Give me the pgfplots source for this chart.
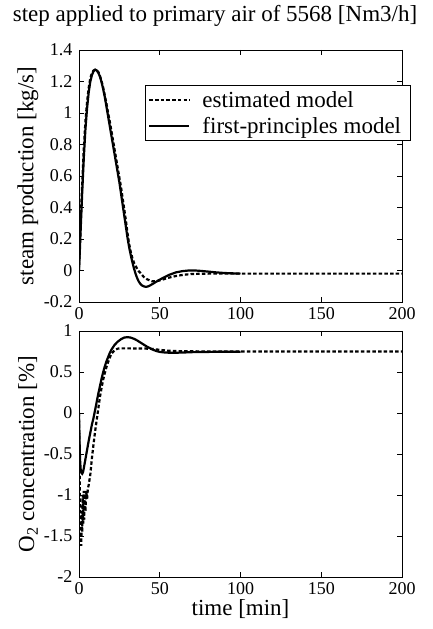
\documentclass[border=0pt]{standalone}
\usepackage{pgfplots}
\pgfplotsset{compat=1.18}
\usepackage{fontspec}
\setmainfont{Liberation Serif}

\pgfplotsset{
  myax/.style={
    scale only axis,
    width=323pt,
    xmin=0, xmax=200,
    xtick={0,50,100,150,200},
    xticklabels={0,50,100,150,200},
    tick align=inside,
    major tick length=5pt,
    axis line style={line width=0.8pt},
    every tick/.style={line width=0.8pt, black},
    ticklabel style={font=\fontsize{18}{20}\selectfont},
    yticklabel style={xshift=-3pt},
    xticklabel style={yshift=-2pt},
    label style={font=\fontsize{23}{26}\selectfont},
    clip=true,
  },
  est/.style={black, line width=2.2pt, dash pattern=on 3.5pt off 2.2pt},
  fp/.style={black, line width=2.2pt},
}

\begin{document}
\begin{tikzpicture}
\path[use as bounding box] (0pt,0pt) rectangle (432pt,629pt);
\node[font=\fontsize{23}{26}\selectfont] at (215pt,613pt) {step applied to primary air of 5568 [Nm3/h]};

\begin{axis}[myax,
  at={(79pt,327pt)}, anchor=south west,
  height=252pt,
  ymin=-0.2, ymax=1.4,
  ytick={-0.2,0,0.2,0.4,0.6,0.8,1,1.2,1.4},
  yticklabels={-0.2,0,0.2,0.4,0.6,0.8,1,1.2,1.4},
  ylabel={steam production [kg/s]},
  ylabel style={at={(axis description cs:-0.158,0.5)}, anchor=center},
  legend cell align=left,
  legend style={at={(axis description cs:0.204,0.861)}, anchor=north west,
    draw=black, line width=0.8pt, font=\fontsize{23}{26}\selectfont,
    inner xsep=3pt, inner ysep=5pt, row sep=6pt,
    nodes={inner xsep=6pt, inner ysep=1pt}},
  legend image code/.code={\draw[#1] (0pt,0pt) -- (40pt,0pt);},
]
\addplot[est] coordinates {
(0,0) (0.5,0.15) (1,0.3) (2,0.56) (3,0.78) (4,0.95) (5,1.07) (6,1.16) (7,1.22) (8,1.255) (9,1.27) (10,1.275) (11,1.27) (12,1.26) (13,1.235) (14,1.2) (15,1.16) (16,1.11) (17,1.06) (18,1.0) (19,0.95) (20,0.89) (21,0.83) (22,0.77) (23,0.71) (24,0.65) (25,0.59) (26,0.53) (27,0.46) (28,0.39) (29,0.32) (30,0.24) (31,0.17) (32,0.12) (33,0.08) (34,0.05) (35,0.03) (36,0.01) (37,-0.005) (38,-0.015) (40,-0.04) (42,-0.055) (45,-0.068) (48,-0.068) (51,-0.06) (55,-0.047) (60,-0.035) (65,-0.027) (70,-0.022) (80,-0.02) (100,-0.02) (150,-0.02) (200,-0.02)
};
\addlegendentry{\hspace{6pt}estimated model}
\addplot[fp] coordinates {
(0,0) (0.5,0.12) (1,0.25) (2,0.5) (3,0.72) (4,0.9) (5,1.03) (6,1.13) (7,1.2) (8,1.24) (9,1.265) (10,1.275) (11,1.27) (12,1.255) (13,1.23) (14,1.195) (15,1.15) (16,1.1) (17,1.04) (18,0.98) (19,0.92) (20,0.86) (21,0.8) (22,0.74) (23,0.68) (24,0.62) (25,0.56) (26,0.49) (27,0.42) (28,0.35) (29,0.28) (30,0.21) (31,0.15) (32,0.1) (33,0.055) (34,0.015) (35,-0.02) (36,-0.048) (37,-0.07) (38,-0.085) (39,-0.095) (40,-0.1) (41,-0.103) (42,-0.103) (43,-0.1) (44,-0.095) (46,-0.083) (48,-0.07) (50,-0.058) (53,-0.042) (56,-0.027) (60,-0.012) (64,-0.004) (68,0) (72,0) (76,-0.003) (80,-0.007) (85,-0.012) (90,-0.016) (100,-0.02)
};
\addlegendentry{\hspace{6pt}first-principles model}
\end{axis}

\begin{axis}[myax,
  at={(79pt,52pt)}, anchor=south west,
  height=246pt,
  ymin=-2, ymax=1,
  ytick={-2,-1.5,-1,-0.5,0,0.5,1},
  yticklabels={-2,-1.5,-1,-0.5,0,0.5,1},
  ylabel={O\textsubscript{2} concentration [\%]},
  ylabel style={at={(axis description cs:-0.158,0.5)}, anchor=center},
  xlabel={time [min]},
  xlabel style={at={(axis description cs:0.5,-0.132)}, anchor=center},
]
\addplot[est] coordinates {
(0,0) (0.3,-0.6) (0.6,-1.1) (1.0,-1.45) (1.4,-1.62) (1.7,-1.2) (2.0,-1.45) (2.3,-1.0) (2.6,-1.35) (2.9,-0.95) (3.2,-1.3) (3.6,-0.95) (4.0,-1.2) (4.5,-0.95) (5.0,-1.05) (5.5,-0.92) (6,-0.88) (7,-0.75) (8,-0.55) (9,-0.38) (10,-0.22) (11,-0.08) (12,0.06) (13,0.2) (14,0.31) (15,0.41) (16,0.49) (17,0.56) (18,0.62) (19,0.67) (20,0.72) (22,0.765) (24,0.785) (26,0.788) (30,0.788) (40,0.787) (46,0.78) (50,0.77) (55,0.76) (60,0.755) (80,0.75) (100,0.75) (150,0.75) (200,0.75)
};
\addplot[fp] coordinates {
(0,0) (0.3,-0.3) (0.6,-0.55) (1,-0.68) (1.5,-0.73) (2,-0.74) (2.5,-0.72) (3,-0.67) (4,-0.56) (5,-0.45) (6,-0.34) (7,-0.24) (8,-0.14) (9,-0.06) (10,0.04) (11,0.14) (12,0.24) (13,0.33) (14,0.42) (15,0.5) (16,0.57) (17,0.63) (18,0.68) (19,0.73) (20,0.77) (21,0.8) (22,0.83) (24,0.87) (26,0.9) (28,0.92) (30,0.925) (32,0.92) (34,0.905) (36,0.885) (38,0.86) (40,0.835) (42,0.81) (44,0.79) (46,0.77) (48,0.755) (50,0.745) (53,0.738) (56,0.735) (60,0.735) (65,0.738) (70,0.742) (80,0.745) (100,0.748)
};
\end{axis}
\end{tikzpicture}
\end{document}
